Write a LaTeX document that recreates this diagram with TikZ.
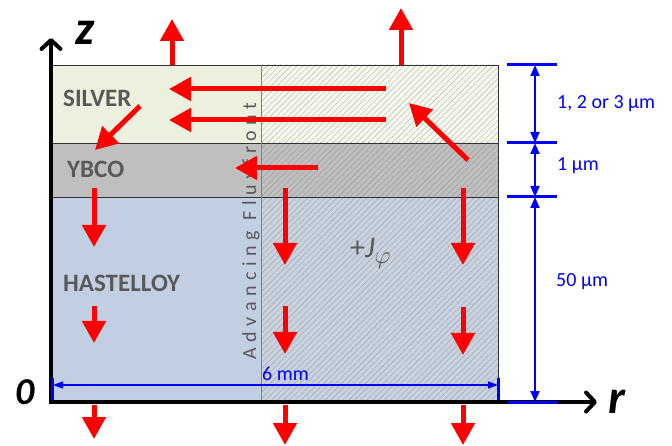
\documentclass[tikz,border=0pt]{standalone}
\usepackage{fontspec}
\setmainfont{Carlito}
\usepackage{amsmath}
\usetikzlibrary{arrows.meta,patterns.meta}
\pgfdeclarelayer{filllayer}
\pgfdeclarelayer{arrowlayer}
\pgfsetlayers{filllayer,main,arrowlayer}
\definecolor{silverfill}{RGB}{235,241,222}
\definecolor{ybcofill}{RGB}{191,191,191}
\definecolor{hastfill}{RGB}{194,207,226}
\definecolor{labelgray}{RGB}{89,89,89}
\tikzstyle{redarrow}=[draw=red, line width=5pt, -{Triangle[width=23pt,length=22pt]}]
\tikzstyle{axis}=[draw=black, line width=4pt, -{Straight Barb[width=19pt,length=9pt,round]}]
\tikzstyle{dimline}=[draw=blue, line width=2pt, {Triangle[width=9pt,length=11pt]}-{Triangle[width=9pt,length=11pt]}]
\tikzstyle{widthline}=[draw=blue, line width=1.5pt, {Triangle[width=7pt,length=10pt]}-{Triangle[width=7pt,length=10pt]}]
\tikzstyle{dimtick}=[draw=blue, line width=3pt]
\tikzstyle{border}=[draw=black!80, line width=0.8pt]
\tikzstyle{hatch}=[pattern={Lines[angle=45,distance=4.2pt,line width=0.6pt]}]
\tikzstyle{layerlabel}=[text=labelgray, font=\bfseries\fontsize{25}{27}\selectfont, anchor=base west, inner sep=0pt]
\tikzstyle{dimlabel}=[text=blue, font=\fontsize{20}{22}\selectfont, anchor=base west, inner sep=0pt]
\tikzstyle{axislabel}=[font=\bfseries\itshape\fontsize{48}{48}\selectfont, anchor=base, inner sep=0pt]
\begin{document}
\begin{tikzpicture}[x=1pt,y=-1pt]
	\useasboundingbox (0,0) rectangle (672,446);
	\begin{pgfonlayer}{filllayer}

	%layers
		\fill [silverfill] (53,65) rectangle (498,143);
		\fill [ybcofill] (53,143) rectangle (498,197);
		\fill [hastfill] (53,197) rectangle (498,402);
	%penetrated part
		\fill [silverfill!50!white] (261,65) rectangle (498,143);
		\fill [style=hatch, pattern color=silverfill!82!black] (261,65) rectangle (498,143);
		\fill [style=hatch, pattern color=ybcofill!84!black] (261,143) rectangle (498,197);
		\fill [ybcofill!30!hastfill!85!white] (261,197) rectangle (498,402);
		\fill [style=hatch, pattern color=hastfill!84!black] (261,197) rectangle (498,402);
		\draw [style=border] (53,65) -- (498,65) -- (498,402);
		\draw [style=border] (53,143) -- (498,143);
		\draw [style=border] (53,197) -- (498,197);
		\draw [draw=black!50, line width=0.8pt] (261,65) -- (261,402);

	\end{pgfonlayer}

	%labels
		\node [style=layerlabel] (silver) at (63,107) {SILVER};
		\node [style=layerlabel] (ybco) at (67,178) {YBCO};
		\node [style=layerlabel] (hastelloy) at (63,292) {HASTELLOY};
		\node [text=labelgray, font=\fontsize{20}{22}\selectfont, rotate=90, anchor=base, inner sep=0pt] (front) at (256,231) {\addfontfeatures{LetterSpace=28}Advancing Fluxfront};
		\node [text=labelgray, font=\fontsize{30}{32}\selectfont, anchor=base west, inner sep=0pt] (jphi) at (350,258) {+\textit{J}\raisebox{-6pt}{$\varphi$}};
		\node [style=dimlabel] (dsilver) at (557,109) {1, 2 or 3 µm};
		\node [style=dimlabel] (dybco) at (557,171) {1 µm};
		\node [style=dimlabel] (dhast) at (556,287) {50 µm};
		\node [style=dimlabel] (dwidth) at (262,380) {6 mm};
		\node [style=axislabel] (zlabel) at (85,45) {z};
		\node [style=axislabel, font=\bfseries\itshape\fontsize{38}{38}\selectfont] (origin) at (25,404) {0};
		\node [style=axislabel] (rlabel) at (617,413) {r};

	%axes
		\coordinate (o) at (51,404);
		\coordinate (zend) at (51,38);
		\coordinate (o2) at (49,402);
		\coordinate (rend) at (597,402);
		\draw [style=axis] (o) to (zend);
		\draw [style=axis] (o2) to (rend);

	%dimensions
		\coordinate (t1a) at (507,65);  \coordinate (t1b) at (557,65);
		\coordinate (t2a) at (507,143); \coordinate (t2b) at (557,143);
		\coordinate (t3a) at (507,197); \coordinate (t3b) at (557,197);
		\coordinate (t4a) at (508,402); \coordinate (t4b) at (557,402);
		\coordinate (d1) at (535,65);
		\coordinate (d2) at (535,143);
		\coordinate (d3) at (535,197);
		\coordinate (d4) at (535,402);
		\draw [style=dimtick] (t1a) to (t1b);
		\draw [style=dimtick] (t2a) to (t2b);
		\draw [style=dimtick] (t3a) to (t3b);
		\draw [style=dimtick] (t4a) to (t4b);
		\draw [style=dimline] (d1) to (d2);
		\draw [style=dimline] (d2) to (d3);
		\draw [style=dimline] (d3) to (d4);
		\coordinate (w1a) at (52,378); \coordinate (w1b) at (52,400);
		\coordinate (w2a) at (498,378); \coordinate (w2b) at (498,400);
		\coordinate (w1) at (53,385);
		\coordinate (w2) at (498,385);
		\draw [style=dimtick] (w1a) to (w1b);
		\draw [style=dimtick] (w2a) to (w2b);
		\draw [style=widthline] (w1) to (w2);

	\begin{pgfonlayer}{arrowlayer}

	%current arrows
		\coordinate (u1) at (172,65);  \coordinate (u1t) at (172,19);
		\coordinate (u2) at (401,65);  \coordinate (u2t) at (401,8);
		\coordinate (h1) at (386,89);  \coordinate (h1t) at (169,89);
		\coordinate (h2) at (386,120); \coordinate (h2t) at (169,120);
		\coordinate (h3) at (318,168); \coordinate (h3t) at (235,168);
		\coordinate (s1) at (140,106); \coordinate (s1t) at (95,150);
		\coordinate (s2) at (468,160); \coordinate (s2t) at (409,103);
		\draw [style=redarrow] (u1) to (u1t);
		\draw [style=redarrow] (u2) to (u2t);
		\draw [style=redarrow] (h1) to (h1t);
		\draw [style=redarrow] (h2) to (h2t);
		\draw [style=redarrow] (h3) to (h3t);
		\draw [style=redarrow] (s1) to (s1t);
		\draw [style=redarrow] (s2) to (s2t);

		\coordinate (a1) at (94,188);  \coordinate (a1t) at (94,247);
		\coordinate (a2) at (94,306);  \coordinate (a2t) at (94,343);
		\coordinate (a3) at (94,405);  \coordinate (a3t) at (94,439);
		\coordinate (b1) at (285,188); \coordinate (b1t) at (285,265);
		\coordinate (b2) at (285,306); \coordinate (b2t) at (285,354);
		\coordinate (b3) at (285,405); \coordinate (b3t) at (285,445);
		\coordinate (c1) at (463,188); \coordinate (c1t) at (463,265);
		\coordinate (c2) at (463,307); \coordinate (c2t) at (463,355);
		\coordinate (c3) at (463,405); \coordinate (c3t) at (463,445);
		\draw [style=redarrow] (a1) to (a1t);
		\draw [style=redarrow] (a2) to (a2t);
		\draw [style=redarrow] (a3) to (a3t);
		\draw [style=redarrow] (b1) to (b1t);
		\draw [style=redarrow] (b2) to (b2t);
		\draw [style=redarrow] (b3) to (b3t);
		\draw [style=redarrow] (c1) to (c1t);
		\draw [style=redarrow] (c2) to (c2t);
		\draw [style=redarrow] (c3) to (c3t);

	\end{pgfonlayer}
\end{tikzpicture}
\end{document}
